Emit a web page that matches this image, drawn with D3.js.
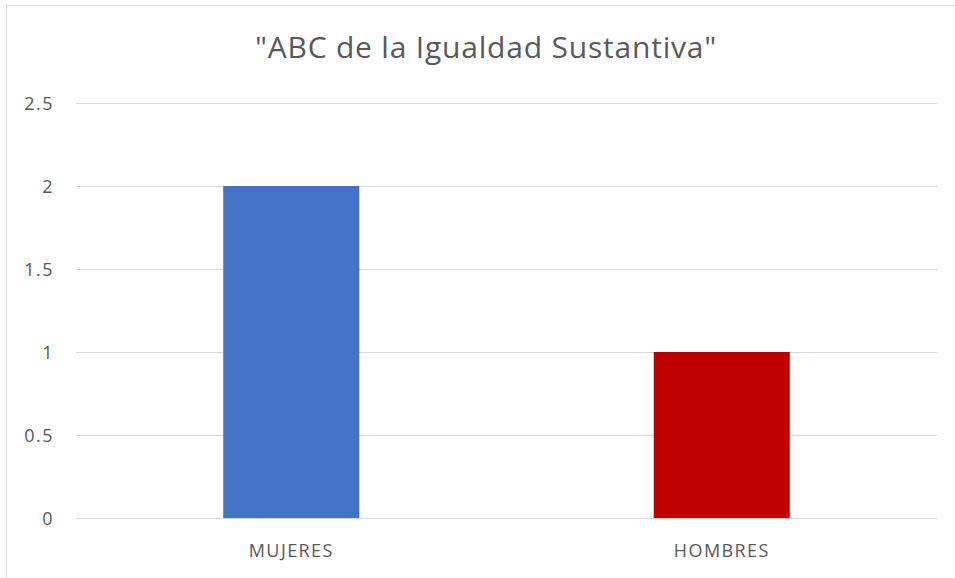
<!DOCTYPE html>
<html><head><meta charset="utf-8">
<script src="https://cdn.jsdelivr.net/npm/d3@7"></script>
<style>body{margin:0;background:#fff}svg{display:block}</style>
</head><body>
<script>
const categories = ["MUJERES", "HOMBRES"];
const values = [2, 1];
const colors = ["#4472C4", "#C00000"];
const yTicks = [0, 0.5, 1, 1.5, 2, 2.5];
const title = "\"ABC de la Igualdad Sustantiva\"";

const W = 955, H = 578;
const m = {left: 76, right: 18, top: 103, bottom: 60};
const svg = d3.select("body").append("svg").attr("width", W).attr("height", H);
const font = "'Open Sans', 'Liberation Sans', sans-serif";

svg.append("rect").attr("x", 6.5).attr("y", 5.5).attr("width", W + 10).attr("height", H + 10)
  .attr("fill", "none").attr("stroke", "#d9d9d9").attr("stroke-width", 1);

const x = d3.scaleBand().domain(categories).range([m.left, W - m.right]).padding(0);
const y = d3.scaleLinear().domain([0, 2.5]).range([H - m.bottom, m.top]);

const yAxis = d3.axisLeft(y).tickValues(yTicks).tickSize(-(W - m.right - m.left)).tickPadding(22)
  .tickFormat(d => String(d));
const gy = svg.append("g").attr("transform", `translate(${m.left},0)`).call(yAxis);
gy.select(".domain").remove();
gy.selectAll("line").attr("stroke", "#d9d9d9").attr("stroke-width", 1);
gy.selectAll("text").attr("fill", "#595959").style("font-family", font).style("font-size", "18px")
  .style("letter-spacing", "1.5px").attr("dy", "0.36em");

const bw = x.bandwidth() * 0.316;
svg.selectAll("rect.bar").data(categories).join("rect").attr("class", "bar")
  .attr("x", (d) => x(d) + x.bandwidth() / 2 - bw / 2)
  .attr("width", bw)
  .attr("y", (d, i) => y(values[i]))
  .attr("height", (d, i) => y(0) - y(values[i]))
  .attr("fill", (d, i) => colors[i]);

const xAxis = d3.axisBottom(x).tickSize(0).tickPadding(26);
const gx = svg.append("g").attr("transform", `translate(0,${H - m.bottom})`).call(xAxis);
gx.select(".domain").remove();
gx.selectAll("text").attr("fill", "#595959").style("font-family", font).style("font-size", "18px")
  .style("letter-spacing", "1.4px");

svg.append("text").attr("x", 486).attr("y", 58).attr("text-anchor", "middle")
  .attr("fill", "#595959").style("font-family", font).style("font-size", "30px")
  .style("letter-spacing", "0.8px").text(title);
</script>
</body></html>
